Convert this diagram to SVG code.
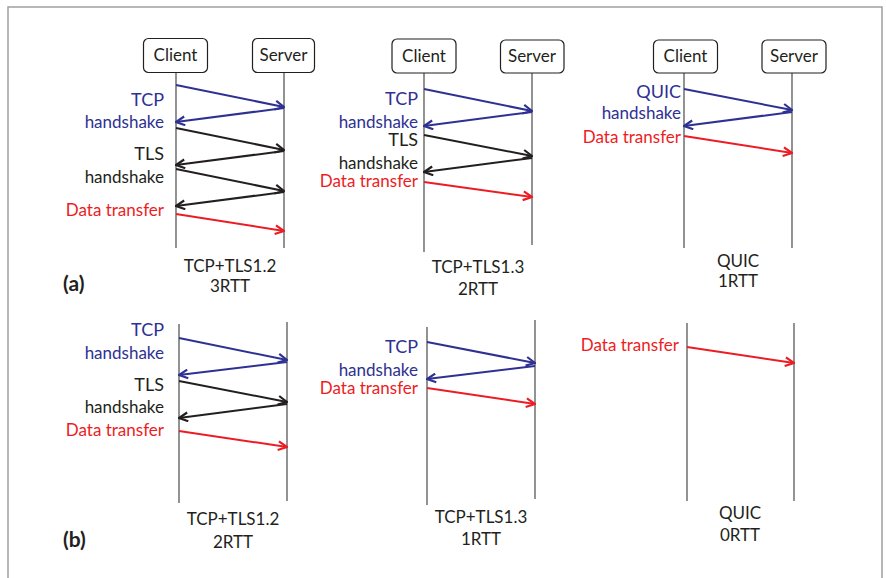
<svg xmlns="http://www.w3.org/2000/svg" width="886" height="578" viewBox="0 0 886 578">
  <style>
    text { font-family: Lato, "Liberation Sans", sans-serif; font-size: 17px; }
    .lbl { text-anchor: end; }
    .big { font-size: 18px; }
    .cap { text-anchor: middle; fill: #231f20; }
    .blue { fill: #2e3192; }
    .blk { fill: #231f20; }
    .red { fill: #ed1c24; }
    .box { fill: #ffffff; stroke: #231f20; stroke-width: 1.2; }
    .life { stroke: #4a4a4a; stroke-width: 1.2; }
    .msg { fill: none; stroke-width: 2; }
    .mb { stroke: #2e3192; marker-end: url(#ab); }
    .mk { stroke: #231f20; marker-end: url(#ak); }
    .mr { stroke: #ed1c24; marker-end: url(#ar); }
    .tag { font-weight: bold; font-size: 21px; fill: #231f20; }
  </style>
  <defs>
    <marker id="ab" viewBox="0 0 10 10" refX="9" refY="5" markerWidth="11" markerHeight="11" markerUnits="userSpaceOnUse" orient="auto">
      <path d="M1,1 L9,5 L1,9" fill="none" stroke="#2e3192" stroke-width="2"/>
    </marker>
    <marker id="ak" viewBox="0 0 10 10" refX="9" refY="5" markerWidth="11" markerHeight="11" markerUnits="userSpaceOnUse" orient="auto">
      <path d="M1,1 L9,5 L1,9" fill="none" stroke="#231f20" stroke-width="2"/>
    </marker>
    <marker id="ar" viewBox="0 0 10 10" refX="9" refY="5" markerWidth="11" markerHeight="11" markerUnits="userSpaceOnUse" orient="auto">
      <path d="M1,1 L9,5 L1,9" fill="none" stroke="#ed1c24" stroke-width="2"/>
    </marker>
  </defs>

  <!-- frame -->
  <path d="M8,578 L8,7 L882,7 L882,578" fill="none" stroke="#a0a0a0" stroke-width="1.5"/>

  <!-- (a) TCP + TLS 1.2 -->
  <g id="a-tls12">
    <line class="life" x1="176" y1="72" x2="176" y2="248"/>
    <line class="life" x1="284" y1="72" x2="284" y2="248"/>
    <g id="a-tls12-client"><rect class="box" x="143.5" y="38.5" width="64" height="34" rx="5"/><text class="blk" x="175.5" y="61" text-anchor="middle">Client</text></g>
    <g id="a-tls12-server"><rect class="box" x="252.5" y="38.5" width="62" height="34" rx="5"/><text class="blk" x="283.5" y="61" text-anchor="middle">Server</text></g>
    <text class="lbl big blue" x="164" y="106">TCP</text>
    <text class="lbl blue" x="164" y="128">handshake</text>
    <text class="lbl big blk" x="164" y="160">TLS</text>
    <text class="lbl blk" x="164" y="183">handshake</text>
    <text class="lbl red" x="164" y="216">Data transfer</text>
    <text class="cap" x="230" y="272">TCP+TLS1.2</text>
    <text class="cap" x="230" y="292">3RTT</text>
  </g>

  <!-- (a) TCP + TLS 1.3 -->
  <g id="a-tls13">
    <line class="life" x1="424" y1="72" x2="424" y2="252"/>
    <line class="life" x1="532" y1="72" x2="532" y2="245"/>
    <g id="a-tls13-client"><rect class="box" x="392" y="39" width="64" height="34" rx="5"/><text class="blk" x="424" y="61.5" text-anchor="middle">Client</text></g>
    <g id="a-tls13-server"><rect class="box" x="500.5" y="40" width="63.5" height="33" rx="5"/><text class="blk" x="532" y="62" text-anchor="middle">Server</text></g>
    <text class="lbl big blue" x="418" y="105">TCP</text>
    <text class="lbl blue" x="418" y="128">handshake</text>
    <text class="lbl big blk" x="418" y="146">TLS</text>
    <text class="lbl blk" x="418" y="169">handshake</text>
    <text class="lbl red" x="418" y="187">Data transfer</text>
    <text class="cap" x="478" y="273">TCP+TLS1.3</text>
    <text class="cap" x="478" y="295">2RTT</text>
  </g>

  <!-- (a) QUIC -->
  <g id="a-quic">
    <line class="life" x1="684" y1="72" x2="684" y2="248"/>
    <line class="life" x1="792" y1="72" x2="792" y2="248"/>
    <g id="a-quic-client"><rect class="box" x="653.5" y="40" width="64" height="33" rx="5"/><text class="blk" x="685.5" y="62" text-anchor="middle">Client</text></g>
    <g id="a-quic-server"><rect class="box" x="762" y="40" width="64" height="33" rx="5"/><text class="blk" x="794" y="62" text-anchor="middle">Server</text></g>
    <text class="lbl big blue" x="681" y="98">QUIC</text>
    <text class="lbl blue" x="681" y="119">handshake</text>
    <text class="lbl red" x="681" y="143">Data transfer</text>
    <text class="cap" x="738" y="267">QUIC</text>
    <text class="cap" x="738" y="287">1RTT</text>
  </g>

  <!-- (b) TCP + TLS 1.2 -->
  <g id="b-tls12">
    <line class="life" x1="179" y1="324" x2="179" y2="503"/>
    <line class="life" x1="287" y1="322" x2="287" y2="501"/>
    <text class="lbl big blue" x="164" y="336">TCP</text>
    <text class="lbl blue" x="164" y="359">handshake</text>
    <text class="lbl big blk" x="164" y="391">TLS</text>
    <text class="lbl blk" x="164" y="413">handshake</text>
    <text class="lbl red" x="164" y="436">Data transfer</text>
    <text class="cap" x="233" y="525">TCP+TLS1.2</text>
    <text class="cap" x="233" y="548">2RTT</text>
  </g>

  <!-- (b) TCP + TLS 1.3 -->
  <g id="b-tls13">
    <line class="life" x1="427" y1="327" x2="427" y2="505"/>
    <line class="life" x1="535" y1="320" x2="535" y2="499"/>
    <text class="lbl big blue" x="418" y="353">TCP</text>
    <text class="lbl blue" x="418" y="376">handshake</text>
    <text class="lbl red" x="418" y="394">Data transfer</text>
    <text class="cap" x="481" y="523">TCP+TLS1.3</text>
    <text class="cap" x="481" y="545">1RTT</text>
  </g>

  <!-- (b) QUIC -->
  <g id="b-quic">
    <line class="life" x1="687" y1="323" x2="687" y2="501"/>
    <line class="life" x1="794" y1="323" x2="794" y2="501"/>
    <text class="lbl red" x="679" y="351">Data transfer</text>
    <text class="cap" x="740" y="519">QUIC</text>
    <text class="cap" x="740" y="541">0RTT</text>
  </g>

  <text class="tag" x="63" y="291">(a)</text>
  <text class="tag" x="63" y="547">(b)</text>

  <!-- message arrows -->
  <g id="connectors">
    <line class="msg mb" x1="176" y1="85" x2="284" y2="107"/>
    <line class="msg mb" x1="284" y1="108" x2="176" y2="122"/>
    <line class="msg mk" x1="176" y1="128" x2="284" y2="150"/>
    <line class="msg mk" x1="284" y1="151" x2="176" y2="165"/>
    <line class="msg mk" x1="176" y1="169" x2="284" y2="191"/>
    <line class="msg mk" x1="284" y1="192" x2="176" y2="206"/>
    <line class="msg mr" x1="176" y1="214" x2="284" y2="231"/>

    <line class="msg mb" x1="424" y1="89" x2="532" y2="111"/>
    <line class="msg mb" x1="532" y1="112" x2="424" y2="126"/>
    <line class="msg mk" x1="424" y1="135" x2="532" y2="156"/>
    <line class="msg mk" x1="532" y1="158" x2="424" y2="172"/>
    <line class="msg mr" x1="424" y1="182" x2="532" y2="197"/>

    <line class="msg mb" x1="684" y1="89" x2="792" y2="110"/>
    <line class="msg mb" x1="792" y1="112" x2="684" y2="126"/>
    <line class="msg mr" x1="684" y1="136" x2="792" y2="153"/>

    <line class="msg mb" x1="179" y1="338" x2="287" y2="360"/>
    <line class="msg mb" x1="287" y1="362" x2="179" y2="375"/>
    <line class="msg mk" x1="179" y1="381" x2="287" y2="402"/>
    <line class="msg mk" x1="287" y1="404" x2="179" y2="418"/>
    <line class="msg mr" x1="179" y1="431" x2="287" y2="447"/>

    <line class="msg mb" x1="427" y1="342" x2="535" y2="363"/>
    <line class="msg mb" x1="535" y1="366" x2="427" y2="379"/>
    <line class="msg mr" x1="427" y1="388" x2="535" y2="404"/>

    <line class="msg mr" x1="687" y1="347" x2="794" y2="363"/>
  </g>
</svg>
